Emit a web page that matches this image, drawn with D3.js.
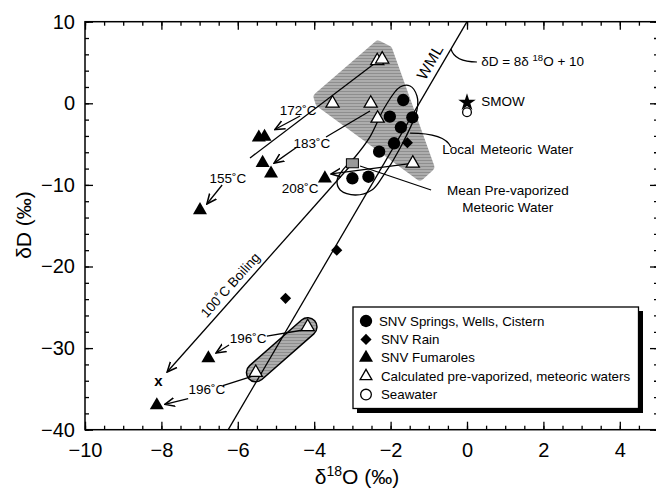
<!DOCTYPE html>
<html>
<head>
<meta charset="utf-8">
<script src="https://cdn.jsdelivr.net/npm/d3@7"></script>
<style>
  body { margin: 0; background: #fff; }
  text { font-family: "Liberation Sans", Arial, Helvetica, sans-serif; fill: #000; }
</style>
</head>
<body>
<div id="chart"></div>
<script>
// DATA (delta 18O, delta D in permil)
var springs = [[-1.67, 0.4], [-2.02, -1.64], [-1.43, -1.72], [-1.73, -2.94], [-1.91, -4.9],
               [-2.3, -5.93], [-3.0, -9.19], [-2.58, -9.0]];
var rain = [[-1.56, -4.83], [-3.41, -18.0], [-4.75, -23.9]];
var fumaroles = [[-5.45, -4.2], [-5.3, -4.1], [-5.35, -7.3], [-5.13, -8.6], [-6.99, -13.1],
                 [-3.72, -9.2], [-6.77, -31.25], [-8.12, -37.0]];
var calculated = [[-2.35, 5.2], [-2.22, 5.4], [-3.52, 0.0], [-2.52, 0.0], [-2.34, -1.84],
                  [-1.42, -7.35], [-4.17, -27.4], [-5.53, -33.0]];
var seawater = [[0, -1.1]];
var smow = [[0, 0.1]];
var meanPre = [[-3.0, -7.35]];
var boilingEnd = [[-8.08, -34.1]];

// WML: dD = 8 d18O + 10
var wmlSlope = 8, wmlIntercept = 10;

// tick values
var xMajor = [-10, -8, -6, -4, -2, 0, 2, 4];
var xMinor = d3.range(-10, 5.01, 0.5);
var yMajor = [-40, -30, -20, -10, 0, 10];
var yMinor = d3.range(-40, 10.01, 2);

// shaded fields and envelope (data units)
var fieldTop = [[-2.33, 7.14], [-2.07, 6.53], [-0.97, -7.81], [-1.23, -8.91], [-3.85, 0.04], [-3.9, 0.78]];
var fieldLow = [[-4.17, -27.4], [-5.53, -33.0]];
var localLoop = [[-1.754, 2.0], [-1.49, 2.12], [-1.31, 0.89], [-1.31, -0.82], [-1.75, -5.48],
                 [-2.23, -9.15], [-2.49, -10.62], [-2.93, -11.24], [-3.32, -10.62], [-3.40, -9.40],
                 [-3.25, -8.17], [-2.93, -6.58], [-2.54, -4.12], [-2.15, -0.45]];

// vapour separation lines: plain segments and arrows
var plainSegs = [
  [[-2.30, 5.31], [-5.68, -6.70]],
  [[-2.54, -0.94], [-3.69, -4.13]],
  [[-4.29, -27.78], [-5.24, -28.52]],
  [[-5.65, -33.5], [-6.39, -34.6]]
];
var arrowSegs = [
  [[-6.41, -10.01], [-6.81, -12.34]],
  [[-4.37, -1.56], [-5.03, -3.21]],
  [[-4.45, -5.36], [-5.05, -7.33]],
  [[-1.49, -7.38], [-3.56, -8.66]],
  [[-3.06, -7.68], [-7.85, -32.93]],
  [[-6.23, -29.62], [-6.57, -30.6]],
  [[-7.30, -36.2], [-7.91, -36.9]]
];
var tempLabels = [
  {t: "172\u02DAC", p: [-4.42, -0.82]},
  {t: "183\u02DAC", p: [-4.06, -4.86]},
  {t: "155\u02DAC", p: [-6.26, -9.15]},
  {t: "208\u02DAC", p: [-4.37, -10.37]},
  {t: "196\u02DAC", p: [-5.73, -28.8]},
  {t: "196\u02DAC", p: [-6.81, -35.1]}
];

var legendItems = ["SNV Springs, Wells, Cistern", "SNV Rain", "SNV Fumaroles",
                   "Calculated pre-vaporized, meteoric waters", "Seawater"];

// SETUP
var W = 656, H = 489;
var x = d3.scaleLinear().domain([-10, 5]).range([85, 658]);
var y = d3.scaleLinear().domain([-40, 10]).range([429.7, 21.7]);

var svg = d3.select("#chart").append("svg")
  .attr("width", W).attr("height", H);

var defs = svg.append("defs");
defs.append("clipPath").attr("id", "plot")
  .append("rect").attr("x", 85).attr("y", 21.7).attr("width", 573).attr("height", 408);

// streaky gray fill
var pat = defs.append("pattern").attr("id", "hatch")
  .attr("patternUnits", "userSpaceOnUse").attr("width", 16).attr("height", 3);
pat.append("rect").attr("width", 16).attr("height", 3).attr("fill", "#adadad");
pat.append("rect").attr("x", 0).attr("y", 1).attr("width", 16).attr("height", 1).attr("fill", "#8e8e8e");

defs.append("marker").attr("id", "arrow")
  .attr("viewBox", "0 0 10 10").attr("refX", 9).attr("refY", 5)
  .attr("markerWidth", 11).attr("markerHeight", 11)
  .attr("markerUnits", "userSpaceOnUse").attr("orient", "auto")
  .append("path").attr("d", "M0,1 L9,5 L0,9")
  .attr("fill", "none").attr("stroke", "#000").attr("stroke-width", 1.4);

var line = d3.line().x(d => x(d[0])).y(d => y(d[1]));

// shaded fields
svg.append("path")
  .attr("d", line(fieldTop) + "Z")
  .attr("fill", "url(#hatch)").attr("stroke", "url(#hatch)")
  .attr("stroke-width", 9).attr("stroke-linejoin", "round");

svg.append("path").attr("d", line(fieldLow))
  .attr("stroke", "#000").attr("stroke-width", 20).attr("stroke-linecap", "round").attr("fill", "none");
svg.append("path").attr("d", line(fieldLow))
  .attr("stroke", "url(#hatch)").attr("stroke-width", 17).attr("stroke-linecap", "round").attr("fill", "none");

// WML
var plot = svg.append("g").attr("clip-path", "url(#plot)");
plot.append("line")
  .attr("x1", x((-40 - wmlIntercept) / wmlSlope)).attr("y1", y(-40))
  .attr("x2", x((10 - wmlIntercept) / wmlSlope)).attr("y2", y(10))
  .attr("stroke", "#000").attr("stroke-width", 1.3);

// local meteoric water envelope
svg.append("path")
  .attr("d", d3.line().x(d => x(d[0])).y(d => y(d[1])).curve(d3.curveCatmullRomClosed.alpha(0.5))(localLoop))
  .attr("fill", "none").attr("stroke", "#000").attr("stroke-width", 1.3);

// segments
svg.selectAll(".seg").data(plainSegs).enter().append("path")
  .attr("d", line).attr("stroke", "#000").attr("stroke-width", 1.3).attr("fill", "none");
svg.selectAll(".arr").data(arrowSegs).enter().append("path")
  .attr("d", line).attr("stroke", "#000").attr("stroke-width", 1.3).attr("fill", "none")
  .attr("marker-end", "url(#arrow)");

// leaders
svg.append("path")
  .attr("d", `M${x(-0.42)},${y(6.65)} Q${x(-0.32)},${y(5.06)} ${x(0.26)},${y(5.06)}`)
  .attr("fill", "none").attr("stroke", "#000").attr("stroke-width", 1.2);
svg.append("path")
  .attr("d", `M${x(-1.49)},${y(-3.65)} Q${x(-0.58)},${y(-3.65)} ${x(-0.42)},${y(-5.36)}`)
  .attr("fill", "none").attr("stroke", "#000").attr("stroke-width", 1.2);
svg.append("path")
  .attr("d", line([[-2.80, -7.68], [-0.94, -10.62]]))
  .attr("fill", "none").attr("stroke", "#000").attr("stroke-width", 1.2);

// markers
function sym(type, size) { return d3.symbol().type(type).size(size)(); }
var circ = sym(d3.symbolCircle, 120);
var tri = sym(d3.symbolTriangle, 85);
var dia = sym(d3.symbolSquare, 62);
var star = sym(d3.symbolStar, 95);

function pts(data, path, fill, stroke, rot) {
  svg.append("g").selectAll("path").data(data).enter().append("path")
    .attr("d", path)
    .attr("transform", d => `translate(${x(d[0])},${y(d[1])})` + (rot ? ` rotate(${rot})` : ""))
    .attr("fill", fill).attr("stroke", stroke).attr("stroke-width", 1.3);
}
pts(springs, circ, "#000", "none");
pts(rain, dia, "#000", "none", 45);
pts(fumaroles, tri, "#000", "none");
pts(calculated, sym(d3.symbolTriangle, 75), "#fff", "#000");
pts(seawater, sym(d3.symbolCircle, 60), "#fff", "#000");
pts(smow, star, "#000", "none");

svg.selectAll(".sq").data(meanPre).enter().append("rect")
  .attr("x", d => x(d[0]) - 6).attr("y", d => y(d[1]) - 4.5)
  .attr("width", 12).attr("height", 9)
  .attr("fill", "#999").attr("stroke", "#000").attr("stroke-width", 1);

svg.selectAll(".bx").data(boilingEnd).enter().append("text")
  .attr("x", d => x(d[0])).attr("y", d => y(d[1]))
  .attr("dy", "0.32em").attr("text-anchor", "middle")
  .attr("font-size", 15).attr("font-weight", "bold").text("x");

// text annotations
svg.selectAll(".tl").data(tempLabels).enter().append("text")
  .attr("x", d => x(d.p[0])).attr("y", d => y(d.p[1]))
  .attr("dy", "0.35em").attr("text-anchor", "middle")
  .attr("font-size", 13.5).text(d => d.t);

var ang = -Math.atan(wmlSlope * (y(0) - y(1)) / (x(1) - x(0))) * 180 / Math.PI;
svg.append("text")
  .attr("transform", `translate(${x(-0.97)},${y(5.06)}) rotate(${ang})`)
  .attr("text-anchor", "middle").attr("dy", "0.35em")
  .attr("font-size", 15.5).attr("letter-spacing", 0.5).text("WML");

var bAng = -Math.atan((y(-32.93) - y(-7.68)) / (x(-3.06) - x(-7.85))) * 180 / Math.PI;
svg.append("text")
  .attr("transform", `translate(${x(-6.20)},${y(-22.27)}) rotate(${-Math.abs(bAng)})`)
  .attr("text-anchor", "middle").attr("dy", "0.35em")
  .attr("font-size", 13.5).text("100\u02DAC Boiling");

svg.append("text").attr("x", x(0.37)).attr("y", y(0.28)).attr("dy", "0.35em")
  .attr("font-size", 13.5).text("SMOW");

var eq = svg.append("text").attr("x", x(0.37)).attr("y", y(5.18)).attr("dy", "0.35em")
  .attr("font-size", 13.5);
eq.append("tspan").text("\u03B4D = 8\u03B4 ");
eq.append("tspan").attr("font-size", 9.5).attr("dy", -5).text("18");
eq.append("tspan").attr("dy", 5).text("O + 10");

svg.append("text").attr("x", x(-0.65)).attr("y", y(-5.6)).attr("dy", "0.35em")
  .attr("font-size", 13.5).attr("word-spacing", 2).text("Local Meteoric Water");
svg.append("text").attr("x", x(1.07)).attr("y", y(-10.6)).attr("dy", "0.35em")
  .attr("text-anchor", "middle").attr("font-size", 13.5).text("Mean Pre-vaporized");
svg.append("text").attr("x", x(1.07)).attr("y", y(-12.7)).attr("dy", "0.35em")
  .attr("text-anchor", "middle").attr("font-size", 13.5).text("Meteoric Water");

// AXES (ticks inward on all four sides)
function axis(gen, vals, size, labels) {
  return gen.tickValues(vals).tickSizeInner(size).tickSizeOuter(0)
    .tickFormat(labels ? d3.format("d") : "").tickPadding(9);
}
var gb = svg.append("g").attr("transform", `translate(0,${y(-40)})`);
gb.call(axis(d3.axisBottom(x), xMinor, -4, false));
var gb2 = svg.append("g").attr("transform", `translate(0,${y(-40)})`);
gb2.call(axis(d3.axisBottom(x), xMajor, -8, true));
var gt = svg.append("g").attr("transform", `translate(0,${y(10)})`);
gt.call(axis(d3.axisTop(x), xMinor, -4, false));
var gt2 = svg.append("g").attr("transform", `translate(0,${y(10)})`);
gt2.call(axis(d3.axisTop(x), xMajor, -8, false));
var gl = svg.append("g").attr("transform", `translate(${x(-10)},0)`);
gl.call(axis(d3.axisLeft(y), yMinor, -4, false));
var gl2 = svg.append("g").attr("transform", `translate(${x(-10)},0)`);
gl2.call(axis(d3.axisLeft(y), yMajor, -8, true));
var gr = svg.append("g").attr("transform", `translate(${x(5)},0)`);
gr.call(axis(d3.axisRight(y), yMinor, -4, false));
var gr2 = svg.append("g").attr("transform", `translate(${x(5)},0)`);
gr2.call(axis(d3.axisRight(y), yMajor, -8, false));

svg.selectAll(".domain").remove();
svg.selectAll(".tick line").attr("stroke", "#000").attr("stroke-width", 1.3);
svg.selectAll(".tick text").attr("font-size", 20).attr("font-family", "'Liberation Sans', Arial, sans-serif");
gb2.selectAll(".tick text").attr("dy", "0.9em");
gl2.selectAll(".tick text").attr("dx", "-0.05em");

svg.append("rect").attr("x", x(-10)).attr("y", y(10))
  .attr("width", x(5) - x(-10)).attr("height", y(-40) - y(10))
  .attr("fill", "none").attr("stroke", "#000").attr("stroke-width", 1.5);

// axis titles
var xt = svg.append("text").attr("x", 357).attr("y", 484)
  .attr("text-anchor", "middle").attr("font-size", 21);
xt.append("tspan").text("\u03B4");
xt.append("tspan").attr("font-size", 14).attr("dy", -8).text("18");
xt.append("tspan").attr("dy", 8).text("O (\u2030)");

svg.append("text").attr("transform", "translate(31,225) rotate(-90)")
  .attr("text-anchor", "middle").attr("font-size", 21).text("\u03B4D (\u2030)");

// LEGEND
var lg = svg.append("g");
lg.append("rect").attr("x", 357).attr("y", 311).attr("width", 286).attr("height", 102).attr("fill", "#000");
lg.append("rect").attr("x", 353).attr("y", 307).attr("width", 285.5).attr("height", 101.5)
  .attr("fill", "#fff").attr("stroke", "#000").attr("stroke-width", 1.3);
var legSyms = [
  {p: circ, f: "#000", s: "none", r: 0},
  {p: dia, f: "#000", s: "none", r: 45},
  {p: tri, f: "#000", s: "none", r: 0},
  {p: sym(d3.symbolTriangle, 60), f: "#fff", s: "#000", r: 0},
  {p: sym(d3.symbolCircle, 90), f: "#fff", s: "#000", r: 0}
];
legendItems.forEach(function(t, i) {
  var yy = 321 + i * 18.4;
  lg.append("path").attr("d", legSyms[i].p)
    .attr("transform", `translate(366,${yy}) rotate(${legSyms[i].r})`)
    .attr("fill", legSyms[i].f).attr("stroke", legSyms[i].s).attr("stroke-width", 1.3);
  lg.append("text").attr("x", i === 0 ? 379 : 381).attr("y", yy).attr("dy", "0.35em")
    .attr("font-size", 13.3).text(t);
});
</script>
</body>
</html>
